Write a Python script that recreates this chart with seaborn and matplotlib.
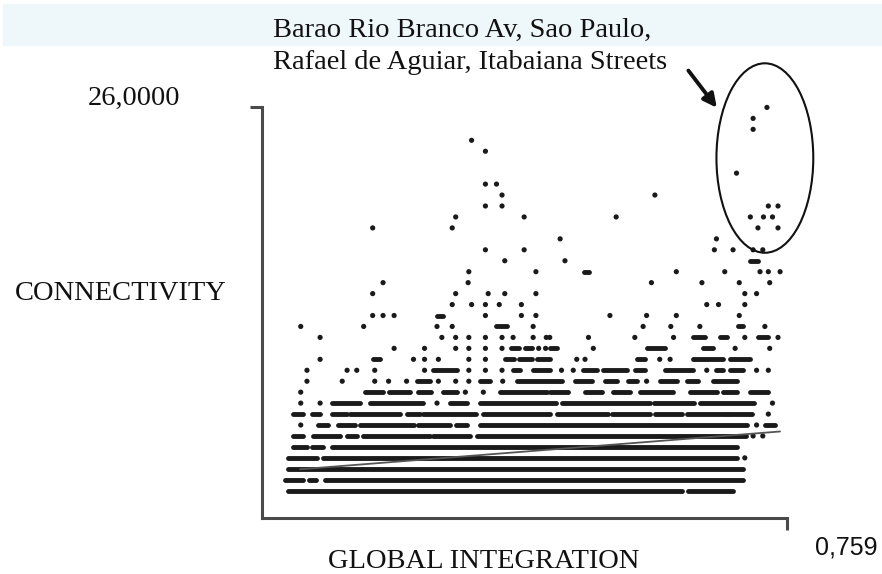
import numpy as np
import matplotlib
matplotlib.use("Agg")
import matplotlib.pyplot as plt
from matplotlib.patches import Ellipse, Rectangle
import seaborn as sns

# --- data ---
# isolated street segments (global integration, connectivity)
dot_gi = [
    0.698,                                                    # 4
    0.710, 0.724,                                             # 6
    0.056, 0.715,                                             # 7
    0.732,                                                    # 8
    0.056, 0.084, 0.253, 0.738,                               # 9
    0.056, 0.294, 0.320,                                      # 10
    0.065, 0.116, 0.163, 0.183, 0.209, 0.255, 0.280, 0.299, 0.348, 0.556,  # 11
    0.065, 0.123, 0.137, 0.163, 0.235, 0.299, 0.323, 0.347, 0.433, 0.450,
    0.643, 0.715, 0.732,                                      # 12
    0.084, 0.219, 0.235, 0.255, 0.299, 0.323, 0.455, 0.467, 0.575, 0.590,  # 13
    0.191, 0.235, 0.280, 0.299, 0.323, 0.347, 0.400, 0.410, 0.479, 0.684,
    0.734,                                                    # 14
    0.084, 0.260, 0.280, 0.299, 0.323, 0.347, 0.363, 0.392, 0.411, 0.416,
    0.472, 0.539, 0.595, 0.698, 0.746,                        # 15
    0.056, 0.147, 0.253, 0.275, 0.392, 0.551, 0.591, 0.633, 0.727,  # 16
    0.160, 0.175, 0.191, 0.323, 0.375, 0.396, 0.503, 0.556, 0.599, 0.690,  # 17
    0.275, 0.303, 0.323, 0.343, 0.375, 0.643, 0.660, 0.698,   # 18
    0.160, 0.280, 0.327, 0.351, 0.396, 0.698, 0.715,          # 19
    0.175, 0.298, 0.563, 0.636, 0.690, 0.734,                 # 20
    0.299, 0.396, 0.599, 0.669, 0.720, 0.732, 0.749,          # 21
    0.351, 0.438,                                             # 22
    0.323, 0.379, 0.654, 0.681, 0.710, 0.724,                 # 23
    0.431, 0.657,                                             # 24
    0.160, 0.275, 0.717, 0.746,                               # 25
    0.280, 0.379, 0.512, 0.706, 0.725, 0.738,                 # 26
    0.323, 0.347, 0.732, 0.746,                               # 27
    0.347, 0.568,                                             # 28
    0.323, 0.339,                                             # 29
    0.686,                                                    # 30
    0.323,                                                    # 32
    0.303,                                                    # 33
    0.710,                                                    # 34
    0.710,                                                    # 35
    0.730,                                                    # 36
]
dot_conn = (
    [4] * 1 + [6] * 2 + [7] * 2 + [8] * 1 + [9] * 4 + [10] * 3 + [11] * 10
    + [12] * 13 + [13] * 10 + [14] * 11 + [15] * 15 + [16] * 9 + [17] * 10
    + [18] * 8 + [19] * 7 + [20] * 6 + [21] * 7 + [22] * 2 + [23] * 6
    + [24] * 2 + [25] * 4 + [26] * 6 + [27] * 4 + [28] * 2 + [29] * 2
    + [30] * 1 + [32] * 1 + [33] * 1 + [34] * 1 + [35] * 1 + [36] * 1
)

# runs of overlapping points on the same connectivity value
seg_start = [
    0.038, 0.616,
    0.033, 0.068, 0.091,
    0.038,
    0.038, 0.088,
    0.045, 0.072, 0.101,
    0.045, 0.074, 0.123, 0.146, 0.247, 0.311,
    0.081, 0.110, 0.141, 0.226, 0.281, 0.315, 0.727,
    0.045, 0.072, 0.101, 0.127, 0.209, 0.233, 0.320, 0.427, 0.506, 0.568, 0.614, 0.674,
    0.101, 0.156, 0.272, 0.315, 0.433, 0.567, 0.633,
    0.149, 0.183, 0.226, 0.262, 0.344, 0.416, 0.467, 0.507, 0.546, 0.619, 0.667, 0.706,
    0.224, 0.315, 0.368, 0.453, 0.496, 0.529, 0.575, 0.614, 0.652,
    0.247, 0.363, 0.392, 0.464, 0.493, 0.539, 0.583, 0.657, 0.677,
    0.160, 0.351, 0.372, 0.398, 0.542, 0.623, 0.677,
    0.360, 0.380, 0.416, 0.556, 0.638,
    0.623, 0.662, 0.717,
    0.339, 0.688,
    0.253,
    0.466,
    0.706,
]
seg_end = [
    0.607, 0.681,
    0.059, 0.078, 0.695,
    0.695,
    0.080, 0.687,
    0.065, 0.088, 0.687,
    0.059, 0.113, 0.137, 0.243, 0.301, 0.700,
    0.096, 0.135, 0.220, 0.272, 0.296, 0.701, 0.742,
    0.059, 0.084, 0.123, 0.200, 0.228, 0.310, 0.416, 0.500, 0.561, 0.607, 0.672, 0.709,
    0.142, 0.233, 0.296, 0.425, 0.561, 0.625, 0.712,
    0.175, 0.214, 0.245, 0.282, 0.412, 0.442, 0.491, 0.532, 0.594, 0.658, 0.687, 0.732,
    0.243, 0.330, 0.433, 0.477, 0.513, 0.542, 0.600, 0.631, 0.687,
    0.282, 0.373, 0.416, 0.484, 0.528, 0.554, 0.623, 0.667, 0.695,
    0.171, 0.365, 0.390, 0.416, 0.554, 0.667, 0.706,
    0.372, 0.390, 0.427, 0.583, 0.652,
    0.640, 0.672, 0.732,
    0.354, 0.695,
    0.262,
    0.473,
    0.717,
]
seg_conn = (
    [1] * 2 + [2] * 3 + [3] * 1 + [4] * 2 + [5] * 3 + [6] * 6 + [7] * 7
    + [8] * 12 + [9] * 7 + [10] * 12 + [11] * 9 + [12] * 9 + [13] * 7
    + [14] * 5 + [15] * 3 + [16] * 2 + [17] * 1 + [21] * 1 + [22] * 1
)

# fitted trend line end points
fit_gi = [0.055, 0.749]
fit_conn = [2.96, 6.41]

# highlighted group (ellipse centre / size) and arrow
group_centre = (0.727, 31.38)
group_size = (0.140, 17.3)

INK = "#1a1a1a"
AXIS = "#4a4a4a"

sns.set_style("white")
plt.rcParams["font.family"] = ["Liberation Serif", "DejaVu Serif"]

fig = plt.figure(figsize=(8.82, 5.74), dpi=100)
W, H = 882, 574

# pale band behind the annotation
fig.patches.append(Rectangle((3 / W, 1 - 45 / H), 879 / W, 41 / H,
                             transform=fig.transFigure, color="#eef8fb", zorder=0))

ax = fig.add_axes([262 / W, 1 - 518 / H, 525 / W, 411 / H])
ax.patch.set_alpha(0)

sns.scatterplot(x=dot_gi, y=dot_conn, s=14, color=INK, edgecolor="none",
                ax=ax, legend=False, clip_on=False, zorder=3)
runs = ax.hlines(seg_conn, seg_start, seg_end, colors=INK, linewidth=3.5, zorder=3)
runs.set_capstyle("round")

sns.lineplot(x=fit_gi, y=fit_conn, color="#555555", linewidth=1.3, ax=ax, zorder=4)

ax.add_patch(Ellipse(group_centre, group_size[0], group_size[1], fill=False,
                     edgecolor="#111111", linewidth=1.5, clip_on=False, zorder=5))
ax.annotate("", xy=(0.660, 35.77), xytext=(0.614, 39.57),
            arrowprops=dict(arrowstyle="-|>", color="#111111", lw=2.8,
                            mutation_scale=20),
            annotation_clip=False)

ax.set_xlim(0, 0.759)
ax.set_ylim(-1.49, 36.04)
ax.set_xticks([0.759])
ax.set_yticks([36.04])
ax.tick_params(length=8.5, width=2.2, color=AXIS, direction="out",
               labelleft=False, labelbottom=False, left=True, bottom=True)
ax.set_xlabel("")
ax.set_ylabel("")
sns.despine(ax=ax)
for side in ["left", "bottom"]:
    ax.spines[side].set_color(AXIS)
    ax.spines[side].set_linewidth(2.2)

serif = dict(fontsize=20.5, color="#111111", va="baseline", ha="left")
fig.text(273 / W, 1 - 37 / H, "Barao Rio Branco Av, Sao Paulo,", **serif)
fig.text(273 / W, 1 - 69 / H, "Rafael de Aguiar, Itabaiana Streets", **serif)
fig.text(88 / W, 1 - 105 / H, "26,0000", **serif)
fig.text(15 / W, 1 - 300 / H, "CONNECTIVITY", **serif)
fig.text(328 / W, 1 - 568 / H, "GLOBAL INTEGRATION", **serif)
fig.text(815 / W, 1 - 555 / H, "0,759", fontsize=18, color="#111111",
         va="baseline", ha="left", family=["Liberation Sans", "DejaVu Sans"])

fig.savefig("out.png", dpi=100)
plt.close(fig)
